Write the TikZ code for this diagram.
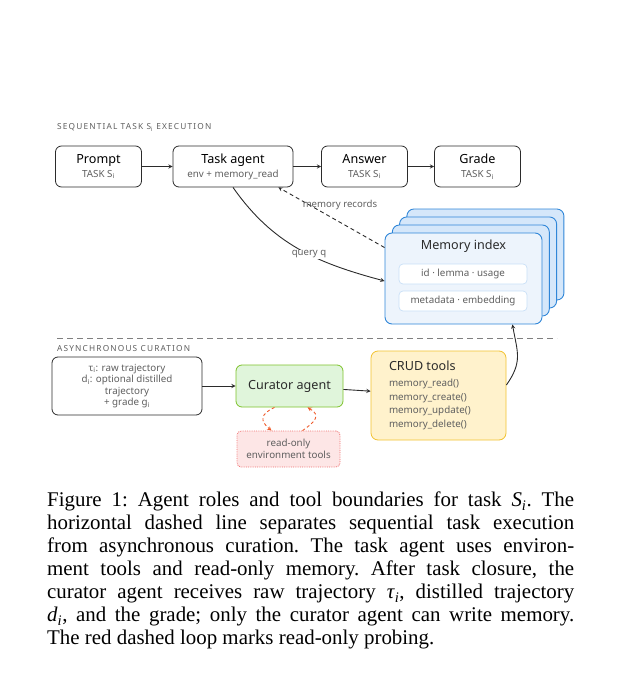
\documentclass[tikz,border=0pt]{standalone}
\usepackage{fontspec}
\setmainfont{Liberation Serif}
\newfontfamily\diagfont{Noto Sans}
\usetikzlibrary{arrows.meta,positioning}
\definecolor{ink}{HTML}{2B2B2B}
\definecolor{subgray}{HTML}{5F5F5F}
\definecolor{memline}{HTML}{2F86D8}
\definecolor{memback}{HTML}{D5E7FA}
\definecolor{memfront}{HTML}{EDF4FC}
\definecolor{rowline}{HTML}{C9E0F7}
\definecolor{curline}{HTML}{7DC22B}
\definecolor{curfill}{HTML}{E0F5DB}
\definecolor{crudline}{HTML}{F2C230}
\definecolor{crudfill}{HTML}{FFF2CC}
\definecolor{envline}{HTML}{F07070}
\definecolor{envfill}{HTML}{FDE6E6}
\definecolor{probe}{HTML}{EF5A2A}
\begin{document}
\begin{tikzpicture}[x=1pt,y=-1pt,>=stealth,font=\diagfont,
	stepbox/.style={draw=ink,rounded corners=6pt,line width=0.8pt,minimum width=86pt,minimum height=41pt,align=center,inner sep=0pt},
	head/.style={font=\diagfont\fontsize{12.6}{15}\selectfont,text=ink},
	lbl/.style={font=\diagfont\fontsize{9.6}{11}\selectfont,text=subgray,inner sep=1pt},
	section/.style={font=\diagfont\fontsize{8.3}{9}\selectfont\addfontfeature{LetterSpace=14},text=subgray,anchor=base west,inner sep=0pt},
	row/.style={draw=rowline,fill=white,rounded corners=4pt,line width=0.7pt,minimum width=128pt,minimum height=20pt,font=\diagfont\fontsize{9.8}{11}\selectfont,text=subgray},
	link/.style={->,draw=ink,line width=0.9pt}]
\useasboundingbox (0,0) rectangle (620,676);
% sequential part
\node[section] (seqlbl) at (57,130) {SEQUENTIAL TASK S\textsubscript{i} EXECUTION};
\node[stepbox] (prompt) at (98.5,166.5) {{\fontsize{12.6}{15}\selectfont Prompt}\\[2pt]{\fontsize{9.8}{11}\selectfont\color{subgray}TASK S\textsubscript{i}}};
\node[stepbox,minimum width=120pt] (task) at (233,166.5) {{\fontsize{12.6}{15}\selectfont Task agent}\\[2pt]{\fontsize{9.8}{11}\selectfont\color{subgray}env + memory\_read}};
\node[stepbox] (answer) at (364.5,166.5) {{\fontsize{12.6}{15}\selectfont Answer}\\[2pt]{\fontsize{9.8}{11}\selectfont\color{subgray}TASK S\textsubscript{i}}};
\node[stepbox] (grade) at (477.5,166.5) {{\fontsize{12.6}{15}\selectfont Grade}\\[2pt]{\fontsize{9.8}{11}\selectfont\color{subgray}TASK S\textsubscript{i}}};
\draw[link] (prompt) -- (task);
\draw[link] (task) -- (answer);
\draw[link] (answer) -- (grade);
% memory stack
\foreach \k in {3,2,1}
	\draw[draw=memline,fill=memback,rounded corners=7pt,line width=0.9pt] (385+7.3*\k,233-8*\k) rectangle ++(157,91);
\node[draw=memline,fill=memfront,rounded corners=7pt,line width=0.9pt,minimum width=157pt,minimum height=91pt] (mem) at (463.5,278.5) {};
\node[head] (memtitle) at (463.5,246) {Memory index};
\node[row] (idrow) at (463,274) {id · lemma · usage};
\node[row] (metarow) at (463,301) {metadata · embedding};
\draw[link] (task.south) to[out=-55,in=165] node[lbl,pos=0.57,fill=white] {query q} ([yshift=-2.5pt]mem.west);
\draw[link,dashed,dash pattern=on 4pt off 3pt] ([yshift=-15pt]mem.north west) -- node[lbl,pos=0.42,above=11pt] {memory records} ([xshift=-15pt]task.south east);
% separator
\draw[subgray!80,line width=0.7pt,dash pattern=on 6pt off 4pt] (57,338) -- (557,338);
% asynchronous part
\node[section] (asynclbl) at (57,351) {ASYNCHRONOUS CURATION};
\node[stepbox,minimum width=150pt,minimum height=58pt,font=\diagfont\fontsize{9.8}{11.4}\selectfont,text=subgray] (input) at (127,386) {τ\textsubscript{i}: raw trajectory\\d\textsubscript{i}: optional distilled\\trajectory\\+ grade g\textsubscript{i}};
\node[draw=curline,fill=curfill,rounded corners=6pt,line width=0.8pt,minimum width=107pt,minimum height=42pt,head] (curator) at (289.5,386) {Curator agent};
\node[draw=envline,fill=envfill,densely dotted,rounded corners=4pt,line width=0.8pt,minimum width=103pt,minimum height=36pt,align=center,font=\diagfont\fontsize{9.8}{11.8}\selectfont,text=subgray] (env) at (288.5,449) {read-only\\environment tools};
\node[draw=crudline,fill=crudfill,rounded corners=7pt,line width=0.8pt,minimum width=135pt,minimum height=89pt,text width=99pt,inner xsep=0pt,align=left,font=\diagfont\fontsize{9.8}{13.7}\selectfont,text=subgray] (crud) at (438.5,395.5) {{\fontsize{12.6}{15}\selectfont\color{ink}CRUD tools}\\[2pt]memory\_read()\\memory\_create()\\memory\_update()\\memory\_delete()};
\draw[link] (input) -- (curator);
\draw[link] (curator) -- (crud);
\draw[link] ([yshift=10.5pt]crud.east) to[out=55,in=-80,looseness=1.2] ([xshift=-30pt]mem.south east);
% read-only probing loop
\draw[->,probe,line width=0.9pt,dash pattern=on 3pt off 2.5pt] ([xshift=-15pt]curator.south) to[out=-155,in=140,looseness=1.7] ([xshift=-17pt]env.north);
\draw[->,probe,line width=0.9pt,dash pattern=on 3pt off 2.5pt] ([xshift=14pt]env.north) to[out=35,in=-30,looseness=1.7] ([xshift=18pt]curator.south);
% caption
\node[anchor=north west,inner sep=0pt,text width=527pt,align=justify,font=\rmfamily\fontsize{20.9}{23}\selectfont\frenchspacing] (caption) at (47,492) {Figure 1: Agent roles and tool boundaries for task \textit{S}\textsubscript{\textit{i}}. The\linebreak horizontal dashed line separates sequential task execution\linebreak from asynchronous curation. The task agent uses environ-\linebreak ment tools and read-only memory. After task closure, the\linebreak curator agent receives raw trajectory \textit{τ}\textsubscript{\textit{i}}, distilled trajectory\linebreak \textit{d}\textsubscript{\textit{i}}, and the grade; only the curator agent can write memory.\linebreak The red dashed loop marks read-only probing.};
\end{tikzpicture}
\end{document}
